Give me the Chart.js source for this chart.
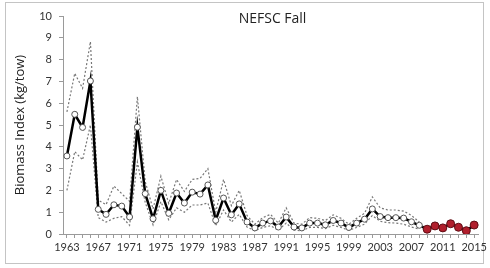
<!DOCTYPE html>
<html>
<head>
<meta charset="utf-8">
<script src="https://cdn.jsdelivr.net/npm/chart.js@4.4.1/dist/chart.umd.min.js"></script>
<style>
  html, body { margin: 0; padding: 0; background: #fff; }
  #wrap { position: relative; width: 490px; height: 268px; }
  #frame { position: absolute; left: 5px; top: 2px; width: 479px; height: 262px; border: 1px solid #c4c4c4; box-sizing: border-box; }
  canvas { position: absolute; left: 0; top: 0; }
</style>
</head>
<body>
<div id="wrap">
  <div id="frame"></div>
  <canvas id="chart" width="490" height="268"></canvas>
</div>
<script>
// survey years
const years = [];
for (let y = 1963; y <= 2015; y++) years.push(String(y));

// biomass index 1963-2008 (open circles)
const surveyIndex = [3.58, 5.49, 4.89, 7.02, 1.13, 0.9, 1.34, 1.28, 0.78, 4.9,
    1.85, 0.7, 2.0, 0.95, 1.88, 1.42, 1.92, 1.83, 2.25, 0.63,
    1.65, 0.88, 1.38, 0.55, 0.28, 0.5, 0.6, 0.32, 0.78, 0.32,
    0.28, 0.5, 0.5, 0.42, 0.62, 0.5, 0.3, 0.5, 0.68, 1.15,
    0.8, 0.75, 0.75, 0.73, 0.56, 0.4];
// upper / lower confidence bounds 1963-2008
const upperCI = [5.6, 7.37, 6.68, 8.82, 1.55, 1.35, 2.2, 1.85, 1.5, 6.3,
    2.4, 1.15, 2.65, 1.4, 2.5, 1.95, 2.5, 2.55, 3.0, 1.0,
    2.5, 1.3, 2.0, 0.85, 0.45, 0.75, 0.9, 0.5, 1.2, 0.5,
    0.45, 0.75, 0.72, 0.62, 0.88, 0.72, 0.45, 0.72, 0.95, 1.7,
    1.2, 1.1, 1.1, 1.05, 0.85, 0.55];
const lowerCI = [2.0, 3.78, 3.4, 5.0, 0.75, 0.55, 0.72, 0.8, 0.4, 3.3,
    1.45, 0.42, 1.48, 0.65, 1.2, 1.0, 1.33, 1.33, 1.42, 0.38,
    1.1, 0.55, 0.9, 0.32, 0.15, 0.3, 0.38, 0.18, 0.5, 0.18,
    0.15, 0.3, 0.3, 0.25, 0.4, 0.3, 0.17, 0.3, 0.45, 0.85,
    0.58, 0.52, 0.5, 0.45, 0.32, 0.22];
// recent years 2009-2015 (red markers)
const recentIndex = [0.22, 0.37, 0.28, 0.47, 0.31, 0.15, 0.41];

const pad = n => Array(n).fill(null);
const nRecent = recentIndex.length;

// draw title centred over the plot area
const titlePlugin = {
    id: 'plotTitle',
    afterDraw(chart) {
        const { ctx, chartArea } = chart;
        ctx.save();
        ctx.font = '14px "Open Sans", sans-serif';
        ctx.fillStyle = '#222';
        ctx.textAlign = 'center';
        ctx.textBaseline = 'middle';
        ctx.fillText('NEFSC Fall', (chartArea.left + chartArea.right) / 2 + 2, 19);
        ctx.restore();
    }
};

const ctx = document.getElementById('chart').getContext('2d');
new Chart(ctx, {
    type: 'line',
    data: {
        labels: years,
        datasets: [
            {
                data: pad(surveyIndex.length).concat(recentIndex),
                showLine: false,
                pointRadius: 4,
                pointBackgroundColor: '#b01e2c',
                pointBorderColor: '#5e0d14',
                pointBorderWidth: 1,
                order: 0
            },
            {
                data: surveyIndex.concat(recentIndex),
                borderColor: '#000',
                borderWidth: 2.5,
                pointRadius: 3,
                pointBackgroundColor: '#fff',
                pointBorderColor: '#555',
                pointBorderWidth: 1,
                order: 1
            },
            {
                data: upperCI.concat(pad(nRecent)),
                borderColor: '#777',
                borderWidth: 1.2,
                borderDash: [2, 2],
                pointRadius: 0,
                order: 2
            },
            {
                data: lowerCI.concat(pad(nRecent)),
                borderColor: '#777',
                borderWidth: 1.2,
                borderDash: [2, 2],
                pointRadius: 0,
                order: 2
            }
        ]
    },
    options: {
        responsive: false,
        animation: false,
        layout: { padding: { left: 0, top: 16, right: 10, bottom: 0 } },
        plugins: {
            legend: { display: false },
            tooltip: { enabled: false }
        },
        scales: {
            x: {
                offset: true,
                border: { color: '#9a9a9a', width: 1 },
                grid: { display: true, drawOnChartArea: false, drawTicks: true, tickLength: 4, color: '#9a9a9a' },
                ticks: {
                    autoSkip: false,
                    maxRotation: 0,
                    padding: 3,
                    color: '#333',
                    font: { family: 'Lato, sans-serif', size: 11 },
                    callback: function (val, i) { return i % 4 === 0 ? years[i] : ''; }
                },
                afterFit: scale => { scale.height = 34; }
            },
            y: {
                min: 0,
                max: 10,
                border: { color: '#9a9a9a', width: 1 },
                grid: { display: true, drawOnChartArea: false, drawTicks: true, tickLength: 4, color: '#9a9a9a' },
                ticks: {
                    stepSize: 1,
                    padding: 7,
                    color: '#333',
                    font: { family: 'Lato, sans-serif', size: 11 }
                },
                title: {
                    display: true,
                    text: 'Biomass Index (kg/tow)',
                    color: '#222',
                    font: { family: '"Open Sans", sans-serif', size: 13 },
                    padding: { top: 12, bottom: 0 }
                },
                afterFit: scale => { scale.width = 63; }
            }
        }
    },
    plugins: [titlePlugin]
});
</script>
</body>
</html>
